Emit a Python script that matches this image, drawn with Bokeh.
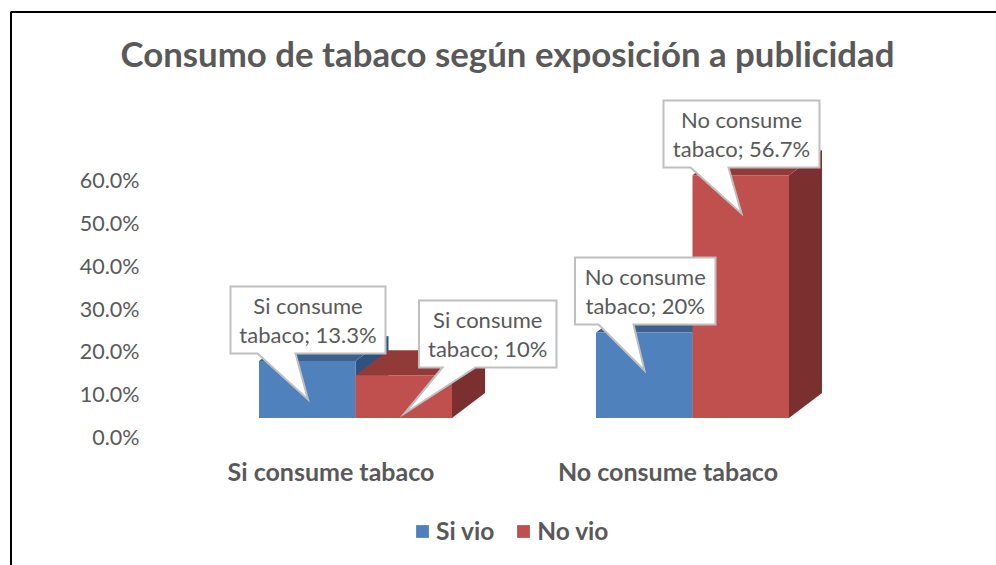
from bokeh.plotting import figure
from bokeh.embed import file_html
from bokeh.resources import INLINE
from bokeh.models import (Range1d, FixedTicker, LinearAxis, Label,
                          Legend, LegendItem, PrintfTickFormatter)
from bokeh.core.properties import value

categories = ["Si consume tabaco", "No consume tabaco"]
series_names = ["Si vio", "No vio"]
si_vio = [13.3, 20.0]
no_vio = [10.0, 56.7]
si_vio_labels = ["13.3%", "20%"]
no_vio_labels = ["10%", "56.7%"]
y_ticks = [0, 10, 20, 30, 40, 50, 60]

W, H = 996, 565
FONT = "Lato"
GREY = "#595959"
BLUE, BLUE_TOP, BLUE_SIDE = "#4F81BD", "#3C618F", "#2F527F"
RED, RED_TOP, RED_SIDE = "#C0504D", "#913B39", "#7B2F2E"

# pixel <-> data conversion for the oblique 3D layout of the reference
PX_PER_UNIT_X = 337.0
PX_PER_UNIT_Y = 4.28
X0_PAGE = 355.0
Y0_PAGE = 436.5
def dx(px): return (px - X0_PAGE) / PX_PER_UNIT_X
def dy(py): return (Y0_PAGE - py) / PX_PER_UNIT_Y

p = figure(width=W, height=H, output_backend="svg", toolbar_location=None,
           x_range=Range1d(dx(0), dx(W)), y_range=Range1d(dy(H), dy(0)),
           min_border=0, x_axis_location=None, y_axis_location=None)
p.grid.visible = False
p.outline_line_color = None

BAR_W = 96.5 / PX_PER_UNIT_X
FLOOR = 19.0 / PX_PER_UNIT_Y          # front edge of the floor above the axis zero
DEPTH_X = 33.0 / PX_PER_UNIT_X
DEPTH_Y = 25.0 / PX_PER_UNIT_Y

def faces(vals, offset):
    lefts = [i + offset for i in range(len(vals))]
    rights = [l + BAR_W for l in lefts]
    tops = [v + FLOOR for v in vals]
    top_x = [[l, r, r + DEPTH_X, l + DEPTH_X] for l, r in zip(lefts, rights)]
    top_y = [[t, t, t + DEPTH_Y, t + DEPTH_Y] for t in tops]
    side_x = [[r, r + DEPTH_X, r + DEPTH_X, r] for r in rights]
    side_y = [[FLOOR, FLOOR + DEPTH_Y, t + DEPTH_Y, t] for t in tops]
    return lefts, rights, tops, top_x, top_y, side_x, side_y

lb, rb, tb, txb, tyb, sxb, syb = faces(si_vio, -BAR_W)
lr, rr, tr, txr, tyr, sxr, syr = faces(no_vio, 0.0)

p.patches(sxb, syb, fill_color=BLUE_SIDE, line_color=None)
p.patches(txb, tyb, fill_color=BLUE_TOP, line_color=None)
blue = p.quad(left=lb, right=rb, bottom=FLOOR, top=tb, fill_color=BLUE, line_color=None)
p.patches(sxr, syr, fill_color=RED_SIDE, line_color=None)
p.patches(txr, tyr, fill_color=RED_TOP, line_color=None)
red = p.quad(left=lr, right=rr, bottom=FLOOR, top=tr, fill_color=RED, line_color=None)

# axes
yax = LinearAxis(ticker=FixedTicker(ticks=y_ticks), fixed_location=dx(146 + 6),
                 formatter=PrintfTickFormatter(format="%.1f%%"))
yax.axis_line_color = None
yax.major_tick_line_color = None
yax.minor_tick_line_color = None
yax.major_label_standoff = 7
yax.major_label_text_font = FONT
yax.major_label_text_font_size = "21.5px"
yax.major_label_text_color = GREY
p.add_layout(yax, "left")

label_shift = -24.5 / PX_PER_UNIT_X
tick_pos = [i + label_shift for i in range(len(categories))]
xax = LinearAxis(ticker=FixedTicker(ticks=tick_pos), fixed_location=dy(449),
                 major_label_overrides={t: c for t, c in zip(tick_pos, categories)})
xax.axis_line_color = None
xax.major_tick_line_color = None
xax.minor_tick_line_color = None
xax.major_label_standoff = 0
xax.major_label_text_font = FONT
xax.major_label_text_font_style = "bold"
xax.major_label_text_font_size = "25px"
xax.major_label_text_color = GREY
p.add_layout(xax, "below")

# callouts: box (left, right, top, bottom), pointer base (a, b), pointer tip (x, y), in pixels
def callout(l, r, t, b, a1, a2, tipx, tipy, text):
    xs = [l, r, r, a2, tipx, a1, l]
    ys = [t, t, b, b, tipy, b, b]
    p.patch([dx(x) for x in xs], [dy(y) for y in ys], fill_color="white",
            line_color="#BFBFBF", line_width=2, line_join="miter")
    p.text([dx((l + r) / 2)], [dy((t + b) / 2)], text=[text], text_align="center",
           text_baseline="middle", text_font=value(FONT), text_font_size="22px",
           text_color=GREY, text_line_height=1.1)

callout(230, 385, 286, 353, 257, 295, 307.5, 399, f"{categories[0][:10]}\ntabaco; {si_vio_labels[0]}")
callout(418.5, 556, 300, 367, 442, 475, 404, 413, f"{categories[0][:10]}\ntabaco; {no_vio_labels[0]}")
callout(574.5, 715, 257, 324, 598, 633, 644, 370, f"{categories[1][:10]}\ntabaco; {si_vio_labels[1]}")
callout(663, 819, 100, 167, 690, 728, 741, 213, f"{categories[1][:10]}\ntabaco; {no_vio_labels[1]}")

# title
p.add_layout(Label(x=507, y=H - 53, x_units="screen", y_units="screen",
                   text="Consumo de tabaco según exposición a publicidad",
                   text_align="center", text_baseline="middle", text_font=FONT,
                   text_font_style="bold", text_font_size="34.8px", text_color=GREY))

# legend
legend = Legend(items=[LegendItem(label=series_names[0], renderers=[blue]),
                       LegendItem(label=series_names[1], renderers=[red])],
                orientation="horizontal", location=(414, 20),
                border_line_color=None, background_fill_color=None,
                background_fill_alpha=0, glyph_width=16, glyph_height=16,
                label_text_font=FONT, label_text_font_style="bold",
                label_text_font_size="24.5px", label_text_color=GREY,
                spacing=21, padding=8, margin=0, label_standoff=6)
p.add_layout(legend, "center")

# chart frame, cropped by the window on the right and bottom
p.line([dx(10.5), dx(10.5), dx(W)], [dy(H), dy(11.5), dy(11.5)], line_color="black", line_width=2)

open("out.html", "w").write(file_html(p, INLINE))
